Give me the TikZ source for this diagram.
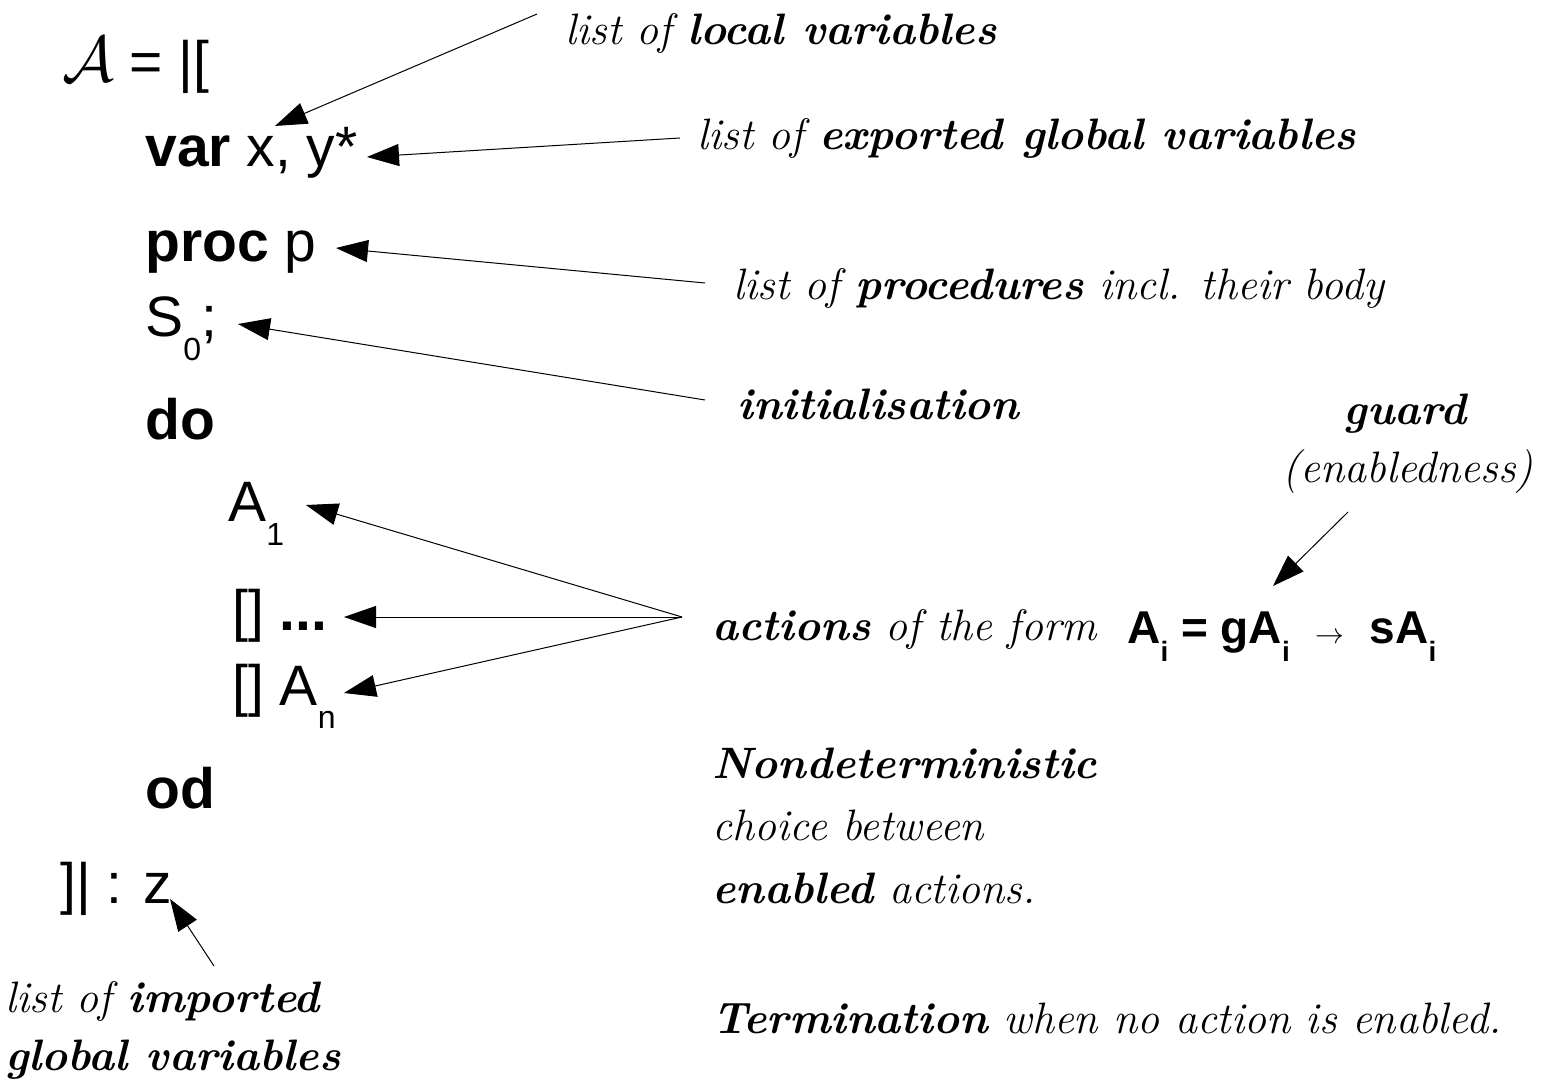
\documentclass[tikz,border=0pt]{standalone}
\usepackage{fontspec}
\newfontfamily\codefont{Liberation Sans}
\usetikzlibrary{arrows.meta}
\newcommand{\sbx}[1]{\raisebox{-0.42em}{\fontsize{16}{16}\selectfont #1}}
\newcommand{\sbb}[1]{\raisebox{-0.4em}{\fontsize{14}{14}\selectfont #1}}
\newcommand{\bi}[1]{{\bfseries #1}}
\begin{document}
\begin{tikzpicture}[x=0.5pt,y=-0.5pt,
  code/.style={font=\codefont\fontsize{28.5}{28.5}\selectfont, anchor=base west, inner sep=0pt},
  note/.style={font=\itshape\fontsize{22}{22}\selectfont, anchor=base west, inner sep=0pt},
  ar/.style={-{Triangle[length=16pt,width=11pt]}, line width=0.5pt}]
\useasboundingbox (0,0) rectangle (1552,1090);

% code
\node[code] (head) at (62,82) {\scalebox{1.3}{$\mathcal{A}$} = |[};
\node[code] (var) at (145,167) {\bfseries var\mdseries{} x, y*};
\node[code] (proc) at (145,262) {\bfseries proc\mdseries{} p};
\node[code] (s0) at (145,337) {S\sbx{0};};
\node[code] (do) at (145,440) {\bfseries do};
\node[code] (a1) at (228,522) {A\sbx{1}};
\node[code] (dots) at (232,630) {[]\ \bfseries ...};
\node[code] (an) at (232,705) {[] A\sbx{n}};
\node[code] (od) at (145,808) {\bfseries od};
\node[code] (end) at (60,903) {]| : z};

% notes
\node[note] (nlocal) at (565,45) {list of \bi{local variables}};
\node[note] (nexp) at (697,150) {list of \bi{exported global variables}};
\node[note] (nproc) at (733,300) {list of \bi{procedures} incl. their body};
\node[note] (ninit) at (737,420) {\bi{initialisation}};
\node[note, anchor=base] (nguard) at (1405,425) {\bi{guard}};
\node[note, anchor=base] (nenab) at (1408,483) {(enabledness)};
\node[note] (nact) at (712,640) {\bi{actions} of the form};
\node[code, font=\codefont\bfseries\fontsize{23}{23}\selectfont] (form) at (1127,643) {A\sbb{i} = gA\sbb{i} \ {\mdseries\fontsize{15}{15}\selectfont$\rightarrow$}\ \ sA\sbb{i}};
\node[note] (nnd) at (712,778) {\bi{Nondeterministic}};
\node[note] (nchoice) at (712,840) {choice between};
\node[note] (nenabled) at (712,903) {\bi{enabled} actions.};
\node[note] (nterm) at (712,1033) {\bi{Termination} when no action is enabled.};
\node[note] (nimp) at (5,1012) {list of \bi{imported}};
\node[note] (nglob) at (5,1070) {\bi{global variables}};

% connector end points
\coordinate (c1s) at (537,14);   \coordinate (c1t) at (275,126);
\coordinate (c2s) at (680,138);  \coordinate (c2t) at (367,157);
\coordinate (c3s) at (705,283);  \coordinate (c3t) at (336,248);
\coordinate (c4s) at (705,400);  \coordinate (c4t) at (238,324);
\coordinate (fan) at (682,617);
\coordinate (c5t) at (306,505);
\coordinate (c6t) at (344,617);
\coordinate (c7t) at (344,693);
\coordinate (c8s) at (1348,512); \coordinate (c8t) at (1273,586);
\coordinate (c9s) at (214,966);  \coordinate (c9t) at (170,899);

\draw[ar] (c1s) -- (c1t);
\draw[ar] (c2s) -- (c2t);
\draw[ar] (c3s) -- (c3t);
\draw[ar] (c4s) -- (c4t);
\draw[ar] (fan) -- (c5t);
\draw[ar] (fan) -- (c6t);
\draw[ar] (fan) -- (c7t);
\draw[ar] (c8s) -- (c8t);
\draw[ar] (c9s) -- (c9t);
\end{tikzpicture}
\end{document}
